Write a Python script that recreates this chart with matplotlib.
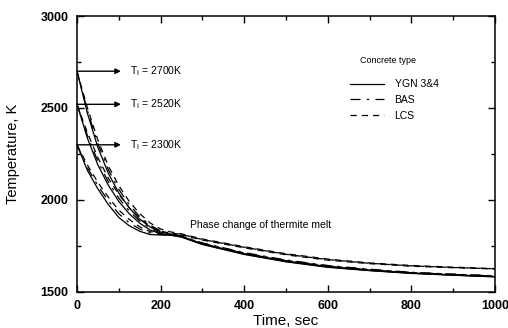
import numpy as np
import matplotlib
matplotlib.use("Agg")
import matplotlib.pyplot as plt
from matplotlib.ticker import MultipleLocator
from matplotlib.lines import Line2D

plt.rcParams["font.family"] = ["Liberation Sans", "DejaVu Sans"]

# melt temperature histories, sec / K
time = [0, 25, 50, 75, 100, 125, 150, 175, 200, 225, 250, 300, 400, 500, 600, 700, 800, 900, 1000]

t2300_ygn = [2300, 2160, 2060, 1975, 1905, 1860, 1830, 1812, 1810, 1808, 1798, 1758, 1704, 1664, 1634, 1616, 1601, 1591, 1582]
t2300_bas = [2300, 2175, 2078, 1995, 1925, 1876, 1842, 1820, 1812, 1810, 1800, 1762, 1710, 1670, 1640, 1620, 1605, 1595, 1586]
t2300_lcs = [2300, 2190, 2095, 2015, 1945, 1894, 1854, 1828, 1816, 1815, 1810, 1782, 1740, 1702, 1673, 1654, 1640, 1632, 1625]

t2520_ygn = [2520, 2335, 2190, 2080, 1992, 1925, 1874, 1837, 1816, 1810, 1800, 1760, 1706, 1666, 1636, 1617, 1602, 1592, 1583]
t2520_bas = [2520, 2350, 2210, 2098, 2010, 1940, 1886, 1846, 1820, 1812, 1803, 1765, 1712, 1672, 1642, 1622, 1606, 1596, 1587]
t2520_lcs = [2520, 2365, 2230, 2118, 2030, 1958, 1900, 1858, 1830, 1820, 1813, 1785, 1743, 1705, 1676, 1656, 1642, 1633, 1626]

t2700_ygn = [2700, 2470, 2285, 2145, 2038, 1957, 1896, 1853, 1826, 1813, 1802, 1762, 1708, 1668, 1638, 1618, 1603, 1593, 1584]
t2700_bas = [2700, 2485, 2305, 2165, 2058, 1974, 1910, 1863, 1832, 1816, 1805, 1767, 1714, 1674, 1644, 1624, 1607, 1597, 1588]
t2700_lcs = [2700, 2500, 2325, 2185, 2078, 1992, 1926, 1875, 1842, 1826, 1816, 1788, 1746, 1708, 1679, 1658, 1644, 1635, 1627]

initial_temps = [2700, 2520, 2300]
concrete = ["YGN 3&4", "BAS", "LCS"]

styles = {
    "YGN 3&4": "-",
    "BAS": (0, (8, 5, 2, 5)),
    "LCS": (0, (5, 4)),
}

curves = [
    ("YGN 3&4", t2300_ygn), ("BAS", t2300_bas), ("LCS", t2300_lcs),
    ("YGN 3&4", t2520_ygn), ("BAS", t2520_bas), ("LCS", t2520_lcs),
    ("YGN 3&4", t2700_ygn), ("BAS", t2700_bas), ("LCS", t2700_lcs),
]

fig = plt.figure(figsize=(5.08, 3.28), dpi=100)
ax = fig.add_axes([0.1516, 0.1098, 0.8228, 0.8414])

for name, temp in curves:
    ax.plot(time, temp, color="black", linestyle=styles[name], linewidth=0.9)

ax.set_xlim(0, 1000)
ax.set_ylim(1500, 3000)
ax.xaxis.set_major_locator(MultipleLocator(200))
ax.xaxis.set_minor_locator(MultipleLocator(100))
ax.yaxis.set_major_locator(MultipleLocator(500))
ax.yaxis.set_minor_locator(MultipleLocator(250))
ax.tick_params(which="both", direction="in", top=True, right=True, width=1.0)
ax.tick_params(which="major", length=5, labelsize=9, pad=6)
ax.tick_params(which="minor", length=3)
for lbl in ax.get_xticklabels() + ax.get_yticklabels():
    lbl.set_fontweight("bold")
for sp in ax.spines.values():
    sp.set_linewidth(1.1)

ax.set_xlabel("Time, sec", fontsize=11, labelpad=1)
ax.set_ylabel("Temperature, K", fontsize=10.5, labelpad=15)

# initial temperature arrows
for t0 in initial_temps:
    ax.annotate("", xy=(105, t0), xytext=(0, t0),
                arrowprops=dict(arrowstyle="-|>", color="black", lw=1.0,
                                mutation_scale=8, shrinkA=0, shrinkB=0))
    ax.text(127, t0, r"T$_{\rm i}$ = %dK" % t0, fontsize=7.5, va="center", ha="left")

ax.text(270, 1866, "Phase change of thermite melt", fontsize=7.5, va="center", ha="left")

# legend
ax.text(0.678, 0.84, "Concrete type", transform=ax.transAxes, fontsize=6.5,
        va="center", ha="left")
handles = [Line2D([], [], color="black", linestyle=styles[c], linewidth=0.9) for c in concrete]
ax.legend(handles, concrete, loc="upper left", bbox_to_anchor=(0.63, 0.805),
          frameon=False, fontsize=7.5, handlelength=3.3, handletextpad=1.0,
          labelspacing=0.55)

fig.savefig("out.png", dpi=100)
